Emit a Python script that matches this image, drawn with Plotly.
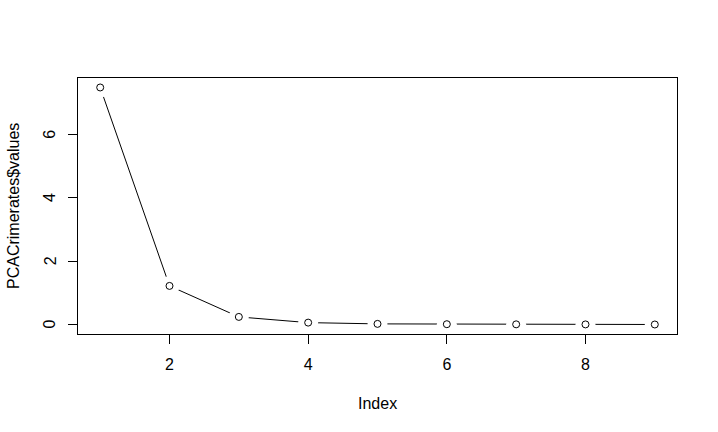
import plotly.graph_objects as go

index = [1, 2, 3, 4, 5, 6, 7, 8, 9]
values = [7.49, 1.22, 0.24, 0.06, 0.02, 0.01, 0.006, 0.003, 0.001]
x_ticks = [2, 4, 6, 8]
y_ticks = [0, 2, 4, 6]
x_title = "Index"
y_title = "PCACrimerates$values"

font = dict(family="Liberation Sans, Arial, sans-serif", size=16, color="black")

fig = go.Figure()
fig.add_trace(go.Scatter(x=index, y=values, mode="lines",
                         line=dict(color="black", width=1), hoverinfo="skip"))
fig.add_trace(go.Scatter(x=index, y=values, mode="markers",
                         marker=dict(symbol="circle", size=20, color="white",
                                     line=dict(width=0)), hoverinfo="skip"))
fig.add_trace(go.Scatter(x=index, y=values, mode="markers",
                         marker=dict(symbol="circle-open", size=7, color="black",
                                     line=dict(width=1, color="black"))))

annotations = [
    dict(text=x_title, xref="paper", yref="paper", x=0.5, y=0,
         xanchor="center", yanchor="middle", yshift=-69,
         showarrow=False, font=font),
    dict(text=y_title, xref="paper", yref="paper", x=0, y=0.5,
         xanchor="center", yanchor="middle", xshift=-65, textangle=-90,
         showarrow=False, font=font),
]
for v in y_ticks:
    annotations.append(dict(text=str(v), xref="paper", yref="y", x=0, y=v,
                            xanchor="center", yanchor="middle", xshift=-28,
                            textangle=-90, showarrow=False, font=font))

fig.update_layout(
    width=718, height=432,
    margin=dict(l=78, r=41, t=78, b=98),
    paper_bgcolor="white", plot_bgcolor="white",
    showlegend=False, font=font,
    annotations=annotations,
)
fig.update_xaxes(
    range=[0.68, 9.32], tickvals=x_ticks, ticks="outside", ticklen=9,
    tickwidth=1, tickcolor="black", showline=True, linecolor="black",
    linewidth=1, mirror=True, showgrid=False, zeroline=False,
    ticklabelstandoff=7, automargin=False,
)
fig.update_yaxes(
    range=[-0.2996, 7.7896], tickvals=y_ticks, ticks="outside", ticklen=9,
    tickwidth=1, tickcolor="black", showline=True, linecolor="black",
    linewidth=1, mirror=True, showgrid=False, zeroline=False,
    showticklabels=False, automargin=False,
)
fig.write_html("out.html", post_script="document.body.style.margin='0';",
               config={"displayModeBar": False})
